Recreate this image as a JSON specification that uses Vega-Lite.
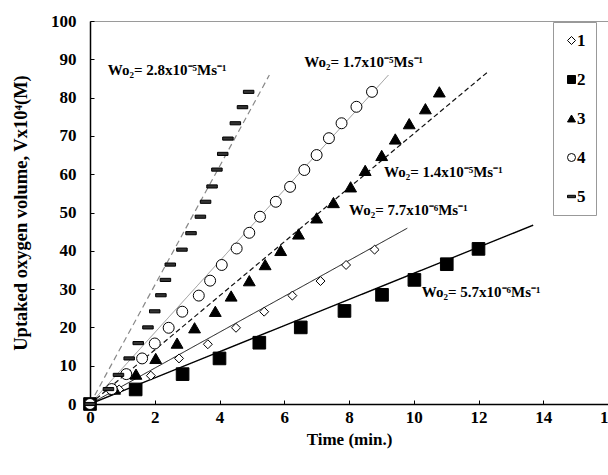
{
  "$schema": "https://vega.github.io/schema/vega-lite/v6.json",
  "autosize": {"type": "none"},
  "width": 518,
  "height": 383,
  "padding": {"left": 90, "top": 21, "right": 0, "bottom": 71},
  "background": "white",
  "config": {
    "view": {"stroke": "#9a9a9a", "strokeWidth": 1},
    "axis": {
      "grid": false,
      "domainColor": "black",
      "domainWidth": 1.5,
      "tickColor": "black",
      "tickWidth": 1,
      "labelFont": "Liberation Serif",
      "labelFontWeight": "bold",
      "labelColor": "black",
      "titleFont": "Liberation Serif",
      "titleFontWeight": "bold",
      "titleColor": "black"
    },
    "legend": {
      "orient": "none",
      "strokeColor": "#999",
      "fillColor": "white",
      "padding": 10,
      "symbolSize": 64,
      "symbolStrokeColor": "black",
      "symbolStrokeWidth": 1,
      "labelFont": "Liberation Serif",
      "labelFontWeight": "bold",
      "labelFontSize": 17,
      "labelColor": "black",
      "rowPadding": 21,
      "labelOffset": -3
    }
  },
  "datasets": {
    "pts": [
      {"s": "1", "t": 0, "v": 0}, {"s": "1", "t": 0.9, "v": 3.8}, {"s": "1", "t": 1.88, "v": 7.4}, {"s": "1", "t": 2.75, "v": 11.9}, {"s": "1", "t": 3.64, "v": 15.6}, {"s": "1", "t": 4.51, "v": 19.9}, {"s": "1", "t": 5.38, "v": 24.1}, {"s": "1", "t": 6.25, "v": 28.3}, {"s": "1", "t": 7.12, "v": 32.1}, {"s": "1", "t": 7.91, "v": 36.3}, {"s": "1", "t": 8.79, "v": 40.3},
      {"s": "2", "t": 0, "v": 0}, {"s": "2", "t": 1.41, "v": 3.8}, {"s": "2", "t": 2.86, "v": 7.8}, {"s": "2", "t": 4.0, "v": 11.9}, {"s": "2", "t": 5.23, "v": 16.0}, {"s": "2", "t": 6.51, "v": 20.0}, {"s": "2", "t": 7.86, "v": 24.3}, {"s": "2", "t": 9.02, "v": 28.5}, {"s": "2", "t": 10.02, "v": 32.4}, {"s": "2", "t": 11.02, "v": 36.5}, {"s": "2", "t": 12.0, "v": 40.5},
      {"s": "3", "t": 0, "v": 0}, {"s": "3", "t": 0.76, "v": 3.9}, {"s": "3", "t": 1.42, "v": 7.8}, {"s": "3", "t": 2.03, "v": 11.9}, {"s": "3", "t": 2.69, "v": 15.9}, {"s": "3", "t": 3.23, "v": 19.9}, {"s": "3", "t": 3.87, "v": 24.2}, {"s": "3", "t": 4.36, "v": 28.2}, {"s": "3", "t": 4.92, "v": 32.2}, {"s": "3", "t": 5.41, "v": 36.4}, {"s": "3", "t": 5.89, "v": 40.1}, {"s": "3", "t": 6.44, "v": 44.4}, {"s": "3", "t": 7.0, "v": 48.6}, {"s": "3", "t": 7.52, "v": 52.6}, {"s": "3", "t": 8.05, "v": 56.7}, {"s": "3", "t": 8.5, "v": 61.0}, {"s": "3", "t": 9.01, "v": 64.9}, {"s": "3", "t": 9.43, "v": 69.2}, {"s": "3", "t": 9.86, "v": 73.2}, {"s": "3", "t": 10.36, "v": 77.1}, {"s": "3", "t": 10.79, "v": 81.5},
      {"s": "4", "t": 0, "v": 0}, {"s": "4", "t": 0.67, "v": 3.9}, {"s": "4", "t": 1.12, "v": 7.8}, {"s": "4", "t": 1.61, "v": 11.9}, {"s": "4", "t": 2.0, "v": 15.8}, {"s": "4", "t": 2.43, "v": 19.9}, {"s": "4", "t": 2.85, "v": 24.1}, {"s": "4", "t": 3.36, "v": 28.3}, {"s": "4", "t": 3.71, "v": 32.2}, {"s": "4", "t": 4.07, "v": 36.3}, {"s": "4", "t": 4.53, "v": 40.6}, {"s": "4", "t": 4.92, "v": 44.7}, {"s": "4", "t": 5.25, "v": 48.9}, {"s": "4", "t": 5.74, "v": 52.8}, {"s": "4", "t": 6.18, "v": 56.7}, {"s": "4", "t": 6.62, "v": 61.1}, {"s": "4", "t": 7.0, "v": 65.0}, {"s": "4", "t": 7.38, "v": 69.4}, {"s": "4", "t": 7.77, "v": 73.3}, {"s": "4", "t": 8.23, "v": 77.6}, {"s": "4", "t": 8.71, "v": 81.5},
      {"s": "5", "t": 0, "v": 0}, {"s": "5", "t": 0.57, "v": 3.9}, {"s": "5", "t": 0.88, "v": 7.6}, {"s": "5", "t": 1.21, "v": 11.9}, {"s": "5", "t": 1.49, "v": 15.9}, {"s": "5", "t": 1.79, "v": 20.0}, {"s": "5", "t": 2.0, "v": 24.2}, {"s": "5", "t": 2.19, "v": 28.4}, {"s": "5", "t": 2.33, "v": 32.4}, {"s": "5", "t": 2.48, "v": 36.4}, {"s": "5", "t": 2.84, "v": 40.3}, {"s": "5", "t": 3.12, "v": 44.6}, {"s": "5", "t": 3.41, "v": 48.9}, {"s": "5", "t": 3.57, "v": 52.8}, {"s": "5", "t": 3.77, "v": 56.8}, {"s": "5", "t": 3.92, "v": 61.2}, {"s": "5", "t": 4.1, "v": 65.3}, {"s": "5", "t": 4.26, "v": 69.3}, {"s": "5", "t": 4.49, "v": 73.3}, {"s": "5", "t": 4.71, "v": 77.5}, {"s": "5", "t": 4.9, "v": 81.5}
    ],
    "fit": [
      {"s": "1", "t": 0, "v": 0}, {"s": "1", "t": 9.8, "v": 45.9},
      {"s": "2", "t": 0, "v": 0}, {"s": "2", "t": 13.69, "v": 46.7},
      {"s": "3", "t": 0, "v": 0}, {"s": "3", "t": 12.3, "v": 86.8},
      {"s": "4", "t": 0, "v": 0}, {"s": "4", "t": 9.22, "v": 85.9},
      {"s": "5", "t": 0, "v": 0}, {"s": "5", "t": 5.54, "v": 85.9}
    ],
    "ann": [
      {"t": 0.55, "v": 87.2, "label": "Wo₂= 2.8x10⁻⁵Ms⁻¹"},
      {"t": 6.62, "v": 89.3, "label": "Wo₂= 1.7x10⁻⁵Ms⁻¹"},
      {"t": 9.08, "v": 60.6, "label": "Wo₂= 1.4x10⁻⁵Ms⁻¹"},
      {"t": 8.0, "v": 50.7, "label": "Wo₂= 7.7x10⁻⁶Ms⁻¹"},
      {"t": 10.25, "v": 29.2, "label": "Wo₂= 5.7x10⁻⁶Ms⁻¹"}
    ]
  },
  "encoding": {
    "x": {
      "field": "t", "type": "quantitative",
      "scale": {"domain": [0, 16], "nice": false},
      "axis": {"values": [0, 2, 4, 6, 8, 10, 12, 14, 16], "tickSize": -4, "labelPadding": 9, "labelFontSize": 17, "title": "Time (min.)", "titleFontSize": 17, "titlePadding": 6, "labelFlush": false}
    },
    "y": {
      "field": "v", "type": "quantitative",
      "scale": {"domain": [0, 100], "nice": false},
      "axis": {"values": [0, 10, 20, 30, 40, 50, 60, 70, 80, 90, 100], "tickSize": -4, "labelPadding": 18, "labelFontSize": 17, "title": "Uptaked oxygen volume, Vx10⁴(M)", "titleFontSize": 18.5, "titlePadding": 20, "labelFlush": false}
    }
  },
  "layer": [
    {
      "data": {"name": "fit"},
      "mark": {"type": "line", "clip": true},
      "encoding": {
        "detail": {"field": "s", "type": "nominal"},
        "color": {"field": "s", "type": "nominal", "legend": null, "scale": {"range": ["#111", "#000", "#111", "#888", "#888"]}},
        "strokeDash": {"field": "s", "type": "nominal", "legend": null, "scale": {"range": [[1, 0], [1, 0], [5, 3], [1, 0], [6, 4]]}},
        "strokeWidth": {"field": "s", "type": "nominal", "legend": null, "scale": {"type": "ordinal", "range": [1, 1.4, 1.2, 0.9, 1.2]}}
      }
    },
    {
      "data": {"name": "pts"},
      "mark": {"type": "point", "strokeWidth": 1, "opacity": 1},
      "encoding": {
        "shape": {"field": "s", "type": "nominal",
          "scale": {"domain": ["1", "2", "3", "4", "5"], "range": ["diamond", "square", "triangle-up", "circle", "M-1,-0.3H1V0.3H-1Z"]},
          "legend": {"title": null, "orient": "none", "legendX": 463, "legendY": 1, "padding": 10, "symbolSize": 64, "labelOffset": -3}},
        "fill": {"field": "s", "type": "nominal",
          "scale": {"domain": ["1", "2", "3", "4", "5"], "range": ["white", "black", "black", "white", "#333"]},
          "legend": {"title": null, "orient": "none", "legendX": 463, "legendY": 1, "padding": 10, "symbolSize": 64, "labelOffset": -3}},
        "stroke": {"field": "s", "type": "nominal",
          "scale": {"domain": ["1", "2", "3", "4", "5"], "range": ["black", "black", "black", "black", "black"]},
          "legend": {"title": null, "orient": "none", "legendX": 463, "legendY": 1, "padding": 10, "symbolSize": 64, "labelOffset": -3}},
        "size": {"field": "s", "type": "nominal", "legend": null, "scale": {"type": "ordinal", "range": [80, 160, 140, 120, 110]}}
      }
    },
    {
      "data": {"name": "ann"},
      "mark": {"type": "text", "align": "left", "baseline": "middle", "font": "Liberation Serif", "fontWeight": "bold", "fontSize": 15, "color": "black"},
      "encoding": {
        "text": {"field": "label", "type": "nominal"}
      }
    }
  ]
}
